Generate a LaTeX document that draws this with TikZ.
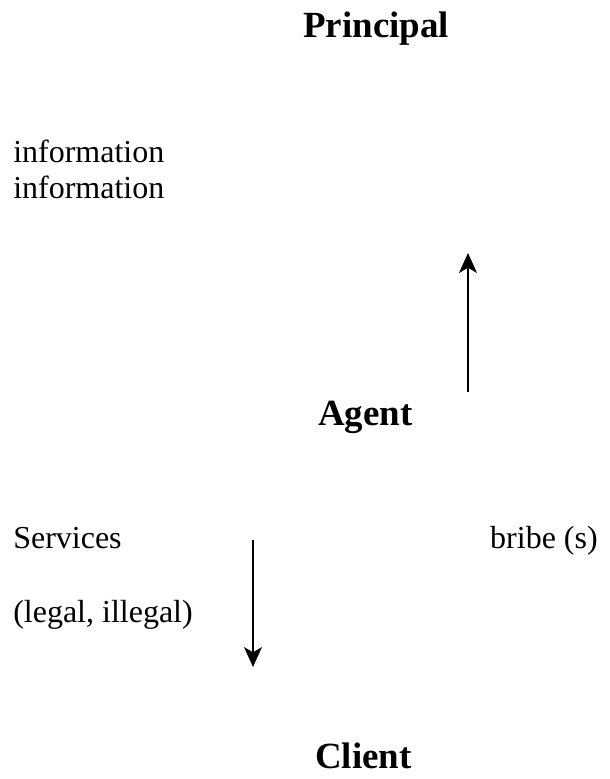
\documentclass[tikz,border=0pt]{standalone}
\usepackage{fontspec}
\setmainfont{Liberation Serif}
\usepackage{tikz}
\usetikzlibrary{positioning,arrows.meta}

\begin{document}
\begin{tikzpicture}[
  x=0.75pt, y=-0.75pt,
  role/.style={font=\fontsize{27.7}{32}\selectfont\bfseries, inner sep=0pt, anchor=base west},
  lbl/.style={font=\fontsize{24}{27}\selectfont, inner sep=0pt, anchor=base west},
  arr/.style={-{Stealth[length=15pt, width=13.5pt, inset=4pt]}, line width=1pt}
]
  \useasboundingbox (0,0) rectangle (610,779);
  \node[role] (principal) at (303,37) {Principal};
  \node[role] (agent) at (318,425) {Agent};
  \node[role] (client) at (315,768) {Client};
  \node[lbl] (info1) at (13,162) {information};
  \node[lbl] (info2) at (13,198) {information};
  \node[lbl] (serv) at (13,548) {Services};
  \node[lbl] (legal) at (13,622) {(legal, illegal)};
  \node[lbl, anchor=base east] (bribe) at (598,548) {bribe (s)};
  \coordinate (upfrom) at (468,392);
  \coordinate (upto) at (468,253);
  \coordinate (downfrom) at (253,540);
  \coordinate (downto) at (253,667);
  \draw[arr] (upfrom) -- (upto);
  \draw[arr] (downfrom) -- (downto);
\end{tikzpicture}
\end{document}
